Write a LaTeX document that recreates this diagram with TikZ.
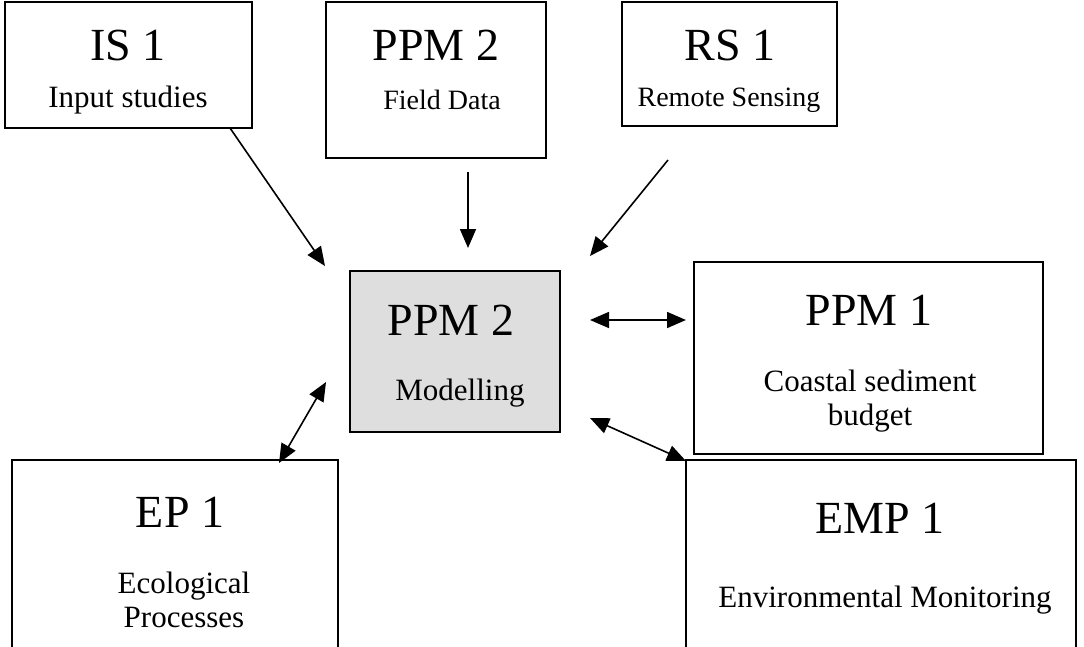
\documentclass[tikz,border=0pt]{standalone}
\usepackage{fontspec}
\setmainfont{Liberation Serif}
\usetikzlibrary{arrows.meta}
\begin{document}
\begin{tikzpicture}[x=1pt,y=-1pt,
  box/.style={draw=black,line width=1.8pt,fill=white},
  grey/.style={draw=black,line width=1.8pt,fill=black!13},
  big/.style={font=\fontsize{46}{50}\selectfont,inner sep=0pt},
  small/.style={font=\fontsize{31}{34}\selectfont,inner sep=0pt,align=center},
  smaller/.style={font=\fontsize{28}{32}\selectfont,inner sep=0pt,align=center},
  tip/.tip={Triangle[length=19pt,width=16pt]},
  arr/.style={line width=1.6pt,-tip},
  dbl/.style={line width=1.6pt,tip-tip}]
\useasboundingbox (0,0) rectangle (1084,646);
\clip (0,0) rectangle (1084,646);

% boxes
\path[box] (5,2) rectangle (252,128) coordinate (is1);
\path[box] (326,2) rectangle (546,158) coordinate (fd);
\path[box] (622,2) rectangle (837,126) coordinate (rs1);
\path[grey] (350,271) rectangle (560,432) coordinate (mod);
\path[box] (694,262) rectangle (1043,454) coordinate (ppm1);
\path[box] (12,460) rectangle (338,660) coordinate (ep1);
\path[box] (686,460) rectangle (1076,660) coordinate (emp1);

% texts
\node[big] (t1) at (128,45) {IS 1};
\node[small] (s1) at (128,100) {Input studies};
\node[big] (t2) at (436,45) {PPM 2};
\node[smaller] (s2) at (442,100) {Field Data};
\node[big] (t3) at (730,45) {RS 1};
\node[smaller] (s3) at (729,100) {Remote Sensing};
\node[big] (t4) at (451,320) {PPM 2};
\node[small] (s4) at (460,393) {Modelling};
\node[big] (t5) at (869,310) {PPM 1};
\node[small] (s5) at (870,401) {Coastal sediment\\budget};
\node[big] (t6) at (180,512) {EP 1};
\node[small] (s6) at (184,600) {Ecological\\Processes};
\node[big] (t7) at (880,518) {EMP 1};
\node[small] (s7) at (885,600) {Environmental Monitoring};

% connector end points
\coordinate (a1) at (230,128);  \coordinate (b1) at (325,266);
\coordinate (a2) at (468,172);  \coordinate (b2) at (468,248);
\coordinate (a3) at (668,160);  \coordinate (b3) at (590,256);
\coordinate (a4) at (590,320);  \coordinate (b4) at (686,320);
\coordinate (a5) at (326,382);  \coordinate (b5) at (279,463);
\coordinate (a6) at (590,418);  \coordinate (b6) at (686,461);

% connectors
\draw[arr] (a1) -- (b1);
\draw[arr] (a2) -- (b2);
\draw[arr] (a3) -- (b3);
\draw[dbl] (a4) -- (b4);
\draw[dbl] (a5) -- (b5);
\draw[dbl] (a6) -- (b6);
\end{tikzpicture}
\end{document}
